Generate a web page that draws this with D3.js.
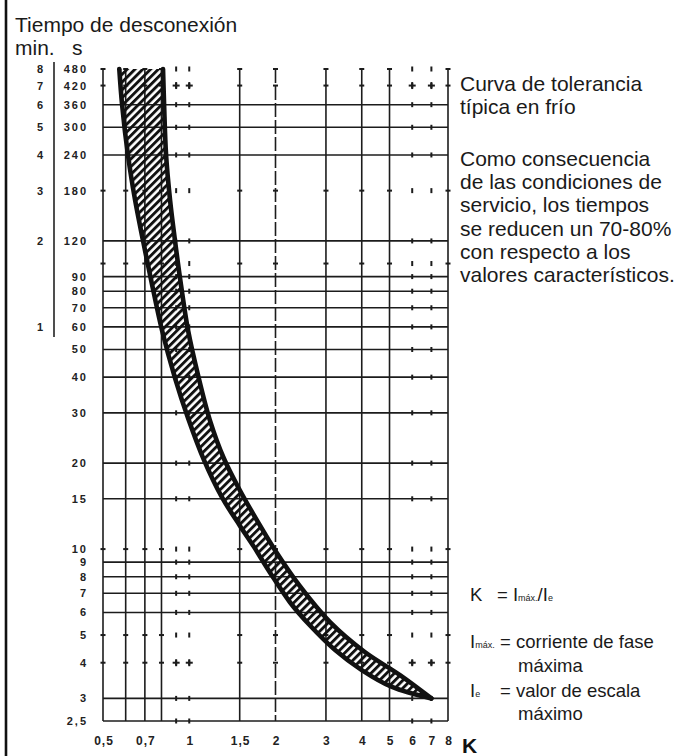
<!DOCTYPE html>
<html lang="es">
<head>
<meta charset="UTF-8">
<title>Curva de tolerancia típica en frío</title>
<style>
  body { margin: 0; background: #fff; }
  svg { display: block; font-family: "Liberation Sans", Arial, sans-serif; }
  .grid { stroke: #1c1c1c; stroke-width: 1.6; fill: none; }
  .mark { fill: #1c1c1c; }
  .tick-lbl { font-size: 11px; font-weight: bold; fill: #222; letter-spacing: 2px; }
  .txt { font-size: 21px; fill: #1a1a1a; }
  .leg { font-size: 18.5px; fill: #1a1a1a; }
  .sub { font-size: 9px; }
</style>
</head>
<body>
<svg id="chart" width="688" height="756"></svg>
<script src="https://d3js.org/d3.v7.min.js"></script>
<script>
// banda de disparo: K = Imáx./Ie  frente a tiempo (s)
const lowerK = [0.57, 0.583, 0.611, 0.647, 0.69, 0.736, 0.803, 0.892, 0.99, 1.126, 1.30, 1.50, 1.68, 1.91, 2.25, 2.64, 3.23, 4.0, 5.1, 7.0];
const lowerT = [480, 360, 240, 167, 120, 87.6, 58.5, 39.7, 28.8, 20.5, 15.2, 12.1, 10.2, 8.3, 6.5, 5.4, 4.43, 3.77, 3.29, 3.0];
const upperK = [0.81, 0.817, 0.83, 0.857, 0.892, 0.936, 0.99, 1.073, 1.18, 1.32, 1.50, 1.74, 1.99, 2.43, 3.1, 4.1, 5.44, 7.0];
const upperT = [480, 360, 240, 167, 120, 84, 58.5, 40.7, 28.3, 20.8, 16.1, 12.4, 9.93, 7.43, 5.55, 4.36, 3.62, 3.0];

// rejilla
const gridCols = [0.5, 0.6, 0.7, 0.8, 1.5, 2, 3, 4, 5, 8];
const dotCols = [0.9, 1, 6, 7];
const gridRows = [360, 300, 240, 120, 90, 80, 70, 60, 50, 40, 30, 20, 15, 9, 8, 7, 6, 3, 2.5];
const dotRows = [480, 420, 180, 100, 10, 5, 4];
const plusRows = [420, 4];

// etiquetas
const minTicks = [480, 420, 360, 300, 240, 180, 120, 60];
const minLabels = ["8", "7", "6", "5", "4", "3", "2", "1"];
const secTicks = [480, 420, 360, 300, 240, 180, 120, 90, 80, 70, 60, 50, 40, 30, 20, 15, 10, 9, 8, 7, 6, 5, 4, 3, 2.5];
const secLabels = ["480", "420", "360", "300", "240", "180", "120", "90", "80", "70", "60", "50", "40", "30", "20", "15", "10", "9", "8", "7", "6", "5", "4", "3", "2,5"];
const kTicks = [0.5, 0.7, 1, 1.5, 2, 3, 4, 5, 6, 7, 8];
const kLabels = ["0,5", "0,7", "1", "1,5", "2", "3", "4", "5", "6", "7", "8"];

const note1 = ["Curva de tolerancia", "típica en frío"];
const note2 = ["Como consecuencia", "de las condiciones de", "servicio, los tiempos",
               "se reducen un 70-80%", "con respecto a los", "valores característicos."];

const svg = d3.select("#chart");

const x = d3.scaleLog().domain([0.5, 8]).range([103, 448]);
const y = d3.scaleLog().domain([2.5, 480]).range([721, 69]);
const [yBot, yTop] = y.range();

// pattern rayado
const defs = svg.append("defs");
defs.append("pattern")
    .attr("id", "hatch")
    .attr("patternUnits", "userSpaceOnUse")
    .attr("width", 5.5).attr("height", 5.5)
    .attr("patternTransform", "rotate(45)")
  .append("rect")
    .attr("width", 2.9).attr("height", 5.5)
    .attr("fill", "#111");

// marco izquierdo
svg.append("line")
    .attr("x1", 6).attr("x2", 6).attr("y1", 0).attr("y2", 756)
    .attr("stroke", "#111").attr("stroke-width", 2.6);

// lineas de rejilla
svg.append("g").selectAll("line")
  .data(gridCols)
  .enter().append("line")
    .attr("class", "grid")
    .attr("x1", d => x(d)).attr("x2", d => x(d))
    .attr("y1", yTop).attr("y2", yBot)
    .attr("stroke-width", d => d === 2 ? 3 : 1.6)
    .attr("stroke-dasharray", d => d === 2 ? "14 3" : null);

svg.append("g").selectAll("line")
  .data(gridRows)
  .enter().append("line")
    .attr("class", "grid")
    .attr("x1", x(0.5)).attr("x2", x(8))
    .attr("y1", d => y(d)).attr("y2", d => y(d));

// marcas pequeñas
const marks = svg.append("g");
dotRows.forEach(r => {
  gridCols.forEach(c => {
    marks.append("rect").attr("class", "mark")
      .attr("x", x(c) - 2.5).attr("y", y(r) - 1).attr("width", 5).attr("height", 2);
  });
});
dotCols.forEach(c => {
  gridRows.concat(dotRows).forEach(r => {
    marks.append("rect").attr("class", "mark")
      .attr("x", x(c) - 1).attr("y", y(r) - 2.5).attr("width", 2).attr("height", 5);
  });
  plusRows.forEach(r => {
    marks.append("rect").attr("class", "mark")
      .attr("x", x(c) - 3.5).attr("y", y(r) - 1).attr("width", 7).attr("height", 2);
    marks.append("rect").attr("class", "mark")
      .attr("x", x(c) - 1).attr("y", y(r) - 3.5).attr("width", 2).attr("height", 7);
  });
});

// banda
const lower = lowerK.map((k, i) => [k, lowerT[i]]);
const upper = upperK.map((k, i) => [k, upperT[i]]);
const line = d3.line()
    .x(d => x(d[0]))
    .y(d => y(d[1]))
    .curve(d3.curveCatmullRom.alpha(0.5));

const bandPath = line(lower) + "L" + line(upper.slice().reverse()).slice(1) + "Z";
svg.append("path")
    .attr("d", bandPath)
    .attr("fill", "url(#hatch)");

svg.selectAll(".edge")
  .data([lower, upper])
  .enter().append("path")
    .attr("class", "edge")
    .attr("d", line)
    .attr("fill", "none")
    .attr("stroke", "#111")
    .attr("stroke-width", 4.6)
    .attr("stroke-linecap", "round");

// eje de tiempo
svg.append("line")
    .attr("x1", 54).attr("x2", 54).attr("y1", 62).attr("y2", 337)
    .attr("stroke", "#222").attr("stroke-width", 1.6);

svg.append("g").selectAll("text")
  .data(minTicks)
  .enter().append("text")
    .attr("class", "tick-lbl")
    .attr("x", 41).attr("y", d => y(d))
    .attr("dy", "0.36em")
    .attr("text-anchor", "middle")
    .text((d, i) => minLabels[i]);

svg.append("g").selectAll("text")
  .data(secTicks)
  .enter().append("text")
    .attr("class", "tick-lbl")
    .attr("x", 88).attr("y", d => y(d))
    .attr("dy", "0.36em")
    .attr("text-anchor", "end")
    .text((d, i) => secLabels[i]);

svg.append("g").selectAll("text")
  .data(kTicks)
  .enter().append("text")
    .attr("class", "tick-lbl")
    .attr("x", d => x(d) + 1).attr("y", 745)
    .attr("text-anchor", "middle")
    .style("font-size", "12px")
    .style("letter-spacing", "1px")
    .text((d, i) => kLabels[i]);

svg.append("text")
    .attr("x", 462).attr("y", 753)
    .attr("font-size", 21).attr("font-weight", "bold").attr("fill", "#111")
    .text("K");

// titulos
svg.append("text").attr("class", "txt").attr("x", 15).attr("y", 32).text("Tiempo de desconexión");
svg.append("text").attr("class", "txt").attr("x", 15).attr("y", 55).text("min.");
svg.append("text").attr("class", "txt").attr("x", 72).attr("y", 55).text("s");

// notas
svg.append("g").selectAll("text")
  .data(note1)
  .enter().append("text")
    .attr("class", "txt")
    .attr("x", 460).attr("y", (d, i) => 91 + i * 23)
    .text(d => d);

svg.append("g").selectAll("text")
  .data(note2)
  .enter().append("text")
    .attr("class", "txt")
    .attr("x", 460).attr("y", (d, i) => 166 + i * 23.2)
    .text(d => d);

// leyenda
const leg = svg.append("g").attr("class", "leg");
const t1 = leg.append("text").attr("x", 470).attr("y", 601);
t1.append("tspan").text("K");
t1.append("tspan").attr("x", 497).text("= I");
t1.append("tspan").attr("class", "sub").text("máx.");
t1.append("tspan").text("/I");
t1.append("tspan").attr("class", "sub").text("e");

const t2 = leg.append("text").attr("x", 470).attr("y", 648);
t2.append("tspan").text("I");
t2.append("tspan").attr("class", "sub").text("máx.");
t2.append("tspan").attr("x", 500).text("= corriente de fase");
leg.append("text").attr("x", 518).attr("y", 672).text("máxima");

const t3 = leg.append("text").attr("x", 470).attr("y", 697);
t3.append("tspan").text("I");
t3.append("tspan").attr("class", "sub").text("e");
t3.append("tspan").attr("x", 500).text("= valor de escala");
leg.append("text").attr("x", 518).attr("y", 720).text("máximo");
</script>
</body>
</html>
